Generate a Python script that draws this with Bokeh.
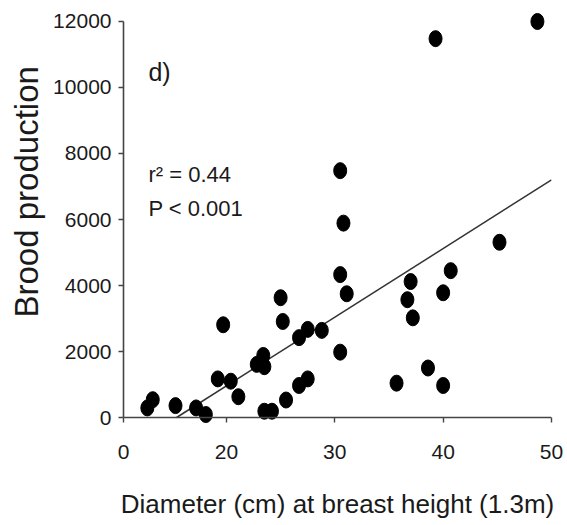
from bokeh.plotting import figure
from bokeh.models import Range1d, FixedTicker, Title, Label, ColumnDataSource, Span
from bokeh.embed import file_html
from bokeh.resources import INLINE

# Data
diameter = [12.7, 13.2, 15.3, 17.2, 18.1, 19.2, 19.7, 20.4, 21.1, 22.8,
            23.4, 23.5, 23.5, 24.2, 25.0, 25.2, 25.5, 26.7, 26.7, 27.5,
            27.5, 28.8, 30.5, 30.5, 30.8, 30.5, 31.1, 35.7, 37.0, 36.7,
            37.2, 38.6, 40.0, 40.0, 40.7, 45.2, 39.3, 48.7]
brood = [290, 540, 360, 290, 90, 1170, 2810, 1100, 630, 1610,
         1880, 1540, 190, 190, 3630, 2910, 530, 2420, 970, 2670,
         1170, 2640, 1980, 4330, 5890, 7480, 3750, 1040, 4120, 3570,
         3020, 1500, 970, 3780, 4450, 5310, 11480, 12000]

# fitted regression line end points
fit_x = [15.4, 50.0]
fit_y = [0, 7200]

# axis ticks (the reference labels its axis origin "0")
x_tick_values = [10.5, 20, 30, 40, 50]
x_tick_labels = ["0", "20", "30", "40", "50"]
y_tick_values = [0, 2000, 4000, 6000, 8000, 10000, 12000]

FONT = "Liberation Sans"
TXT = "#1a1a1a"
AX = "#444444"

p = figure(width=567, height=525, title=None,
           x_range=Range1d(10.5, 50), y_range=Range1d(-303, 12303),
           output_backend="svg", toolbar_location=None,
           min_border_left=123, min_border_right=16, min_border_top=11,
           min_border_bottom=98)
p.grid.visible = False
p.outline_line_color = None
p.background_fill_color = "white"

# x axis: sits at the frame bottom, its rule is drawn at y = 0 by a span
xa = p.xaxis[0]
xa.bounds = (10.5, 50)
xa.ticker = FixedTicker(ticks=x_tick_values)
xa.major_label_overrides = {v: l for v, l in zip(x_tick_values, x_tick_labels)}
xa.axis_line_color = None
xa.major_tick_in = 10
xa.major_tick_out = -5
xa.minor_tick_in = 0
xa.minor_tick_out = 0
xa.major_label_standoff = 17
xa.axis_label = "Diameter (cm) at breast height (1.3m)"
xa.axis_label_text_font = FONT
xa.axis_label_text_font_style = "normal"
xa.axis_label_text_font_size = "26px"
xa.axis_label_text_color = TXT
xa.axis_label_standoff = 27

p.add_layout(Span(location=0, dimension="width", line_color=AX,
                  line_width=1.6))

# y axis
ya = p.yaxis[0]
ya.bounds = (0, 12000)
ya.ticker = FixedTicker(ticks=y_tick_values)
ya.axis_line_color = AX
ya.axis_line_width = 1.6
ya.major_tick_in = 0
ya.major_tick_out = 5
ya.minor_tick_in = 0
ya.minor_tick_out = 0
ya.major_label_standoff = 7

for ax in (xa, ya):
    ax.major_tick_line_color = AX
    ax.major_tick_line_width = 1.4
    ax.minor_tick_line_color = None
    ax.major_label_text_font = FONT
    ax.major_label_text_font_size = "21px"
    ax.major_label_text_color = TXT

# y-axis title
ytitle = Title(text="Brood production", align="left", offset=110,
               vertical_align="top",
               text_font=FONT, text_font_size="33px", text_font_style="normal",
               text_color=TXT, standoff=8)
p.add_layout(ytitle, "left")

# regression line
p.line(fit_x, fit_y, line_color="#333333", line_width=1.5)

# points
src = ColumnDataSource(data=dict(x=diameter, y=brood))
p.ellipse(x="x", y="y", width=13, height=16, width_units="screen",
          height_units="screen", source=src, fill_color="black",
          line_color="black")

# annotations
for txt, yy, size in [("d)", 10480, "25px"), ("r\u00b2 = 0.44", 7360, "22px"),
                      ("P < 0.001", 6340, "22px")]:
    p.add_layout(Label(x=12.8, y=yy, text=txt, text_font=FONT,
                       text_font_size=size, text_color=TXT,
                       text_baseline="alphabetic"))

open("out.html", "w").write(file_html(p, INLINE))
